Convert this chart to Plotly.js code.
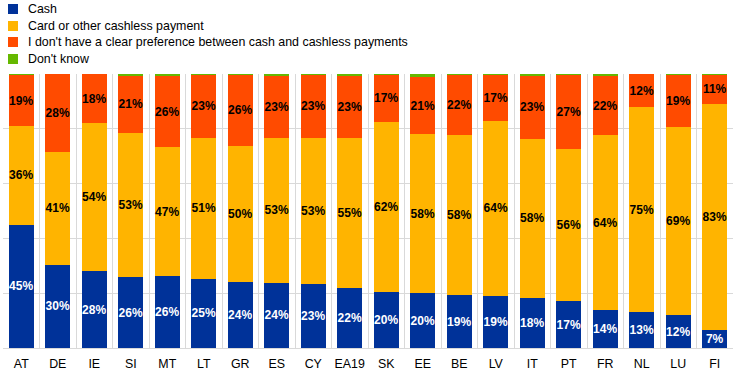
<!DOCTYPE html>
<html>
<head>
<meta charset="utf-8">
<script src="https://cdn.plot.ly/plotly-3.0.1.min.js"></script>
<style>html,body{margin:0;padding:0;background:#fff}#chart{width:744px;height:378px}</style>
</head>
<body>
<div id="chart"></div>
<script>
const categories = ["AT","DE","IE","SI","MT","LT","GR","ES","CY","EA19","SK","EE","BE","LV","IT","PT","FR","NL","LU","FI"];
const cash       = [45.0,30.3,28.0,25.8,26.1,25.3,24.0,23.8,23.3,21.8,20.3,19.9,19.3,19.0,18.2,17.0,13.8,13.0,12.0,6.6];
const card       = [36.0,41.3,54.0,52.8,47.1,51.3,49.9,52.8,53.3,54.8,62.3,58.1,58.3,64.0,58.2,55.8,63.8,75.0,68.8,82.6];
const noPref     = [18.5,28.3,17.9,20.7,26.2,23.2,25.6,22.8,23.2,22.7,17.2,20.8,22.2,16.8,23.0,26.7,21.8,11.9,18.8,10.6];
const dontKnow   = [0.5,0.1,0.1,0.7,0.6,0.2,0.5,0.6,0.2,0.7,0.2,1.2,0.2,0.2,0.6,0.5,0.6,0.1,0.4,0.4];

const names = ["Cash","Card or other cashless payment","I don't have a clear preference between cash and cashless payments","Don't know"];
const colors = ["#003299","#FFB400","#FF4B00","#65B800"];
const series = [cash, card, noPref, dontKnow];
const labelColors = ["#ffffff","#000000","#000000","#000000"];

const traces = series.map((vals, i) => ({
  type: "bar",
  name: names[i],
  x: categories,
  y: vals,
  marker: {color: colors[i], line: {width: 0}},
  texttemplate: i < 3 ? "%{y:.0f}%" : "",
  textposition: i < 3 ? "inside" : "none",
  insidetextanchor: "middle",
  textangle: 0,
  constraintext: "none",
  insidetextfont: {family: "Liberation Sans, Arial, sans-serif", size: 12, color: labelColors[i], weight: "bold"},
  showlegend: false,
  hoverinfo: "skip"
}));

// custom legend (pixel geometry of plot area)
const plotL = 3, plotW = 730, plotT = 74, plotH = 274;
const px2x = p => (p - plotL) / plotW;
const py2y = p => (plotT + plotH - p) / plotH;
const legendRowY = [9, 26, 42, 59];
const shapes = names.map((n, i) => ({
  type: "rect", xref: "paper", yref: "paper",
  x0: px2x(8), x1: px2x(18), y0: py2y(legendRowY[i] + 5), y1: py2y(legendRowY[i] - 5),
  fillcolor: colors[i], line: {width: 0}
}));
const annotations = names.map((n, i) => ({
  xref: "paper", yref: "paper", x: px2x(26), y: py2y(legendRowY[i]),
  xanchor: "left", yanchor: "middle", showarrow: false, text: n,
  font: {family: "Liberation Sans, Arial, sans-serif", size: 12.4, color: "#000"}
}));

const layout = {
  width: 744, height: 378,
  margin: {l: plotL, r: 744 - plotL - plotW, t: plotT, b: 378 - plotT - plotH, autoexpand: false},
  paper_bgcolor: "#ffffff", plot_bgcolor: "#ffffff",
  barmode: "stack",
  bargap: 0.32,
  font: {family: "Liberation Sans, Arial, sans-serif", size: 12, color: "#000000"},
  showlegend: false,
  shapes: shapes,
  annotations: annotations,
  xaxis: {
    type: "category",
    tickson: "boundaries",
    showgrid: true, gridcolor: "#d9d9d9", gridwidth: 1,
    ticks: "", showline: true, linecolor: "#d9d9d9", linewidth: 1,
    tickfont: {size: 12.4, color: "#000"},
    tickangle: 0,
    ticklabelstandoff: 4,
    fixedrange: true
  },
  yaxis: {
    range: [0, 100],
    dtick: 20,
    showgrid: true, gridcolor: "#d9d9d9", gridwidth: 1,
    showticklabels: false, zeroline: false, ticks: "",
    showline: false, fixedrange: true
  }
};

Plotly.newPlot("chart", traces, layout, {displayModeBar: false, staticPlot: true});
</script>
</body>
</html>
